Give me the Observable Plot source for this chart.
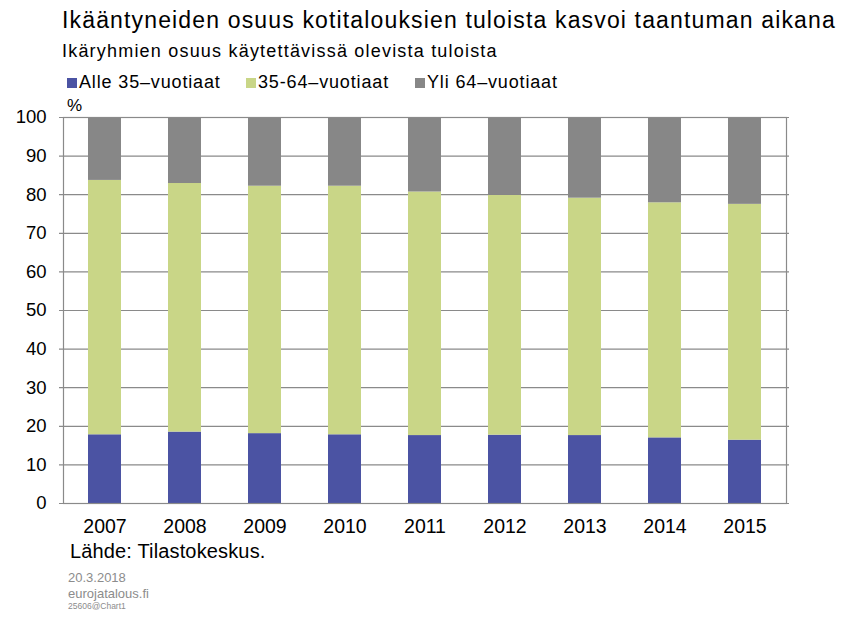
<!DOCTYPE html>
<html><head><meta charset="utf-8">
<script src="https://cdn.jsdelivr.net/npm/d3@7"></script>
<script src="https://cdn.jsdelivr.net/npm/@observablehq/plot@0.6"></script>
<style>
body{margin:0;background:#fff;font-family:"Liberation Sans",Arial,sans-serif;}
#wrap{position:relative;width:845px;height:617px;overflow:hidden;}
.t{position:absolute;white-space:nowrap;color:#000;}
#chart{position:absolute;left:0;top:95px;}
.sq{position:absolute;width:10px;height:10px;}
</style></head>
<body><div id="wrap">
<div class="t" style="left:62px;top:6.5px;font-size:23px;letter-spacing:1.15px;">Ikääntyneiden osuus kotitalouksien tuloista kasvoi taantuman aikana</div>
<div class="t" style="left:62px;top:41px;font-size:18px;letter-spacing:1.2px;">Ikäryhmien osuus käytettävissä olevista tuloista</div>
<div id="legend"></div>
<div class="t" style="left:67px;top:96px;font-size:17px;">%</div>
<div id="chart"></div>
<div class="t" style="left:70px;top:539.5px;font-size:20px;letter-spacing:0.15px;">Lähde: Tilastokeskus.</div>
<div class="t" style="left:68px;top:570px;font-size:13px;color:#8c8c8c;">20.3.2018</div>
<div class="t" style="left:68px;top:586px;font-size:13px;color:#8c8c8c;">eurojatalous.fi</div>
<div class="t" style="left:68px;top:600.5px;font-size:8.5px;color:#8c8c8c;">25606@Chart1</div>
</div>
<script>
const years = ["2007","2008","2009","2010","2011","2012","2013","2014","2015"];
const seriesNames = ["Alle 35–vuotiaat","35-64–vuotiaat","Yli 64–vuotiaat"];
const seriesColors = ["#4b53a3","#c9d687","#878787"];
const under35 = [17.8,18.5,18.1,17.8,17.6,17.7,17.6,17.0,16.4];
const cumTo64 = [83.7,82.9,82.2,82.2,80.7,79.8,79.1,77.9,77.5];
const yTicks = [0,10,20,30,40,50,60,70,80,90,100];

const data = [];
years.forEach((y,i)=>{
  data.push({year:y, series:seriesNames[0], value:under35[i]});
  data.push({year:y, series:seriesNames[1], value:cumTo64[i]-under35[i]});
  data.push({year:y, series:seriesNames[2], value:100-cumTo64[i]});
});

const legendX = [67, 246, 415];
const leg = document.getElementById("legend");
leg.innerHTML = seriesNames.map((s,i)=>
  `<div class="sq" style="left:${legendX[i]}px;top:78px;background:${seriesColors[i]}"></div>` +
  `<div class="t" style="left:${legendX[i]+12}px;top:72.4px;font-size:18px;letter-spacing:0.85px;">${s}</div>`).join("");

const chart = Plot.plot({
  width: 845, height: 450,
  marginTop: 22, marginBottom: 42, marginLeft: 63, marginRight: 59,
  style: {fontFamily: "Liberation Sans, Arial, sans-serif", fontSize: "18px", color:"#000"},
  x: {domain: years, paddingInner: 0.59, paddingOuter: 0.295, label: null},
  y: {domain: [0,100], label: null},
  color: {domain: seriesNames, range: seriesColors},
  marks: [
    Plot.ruleY(yTicks, {stroke:"#8a8a8a", strokeWidth:1.2, insetLeft:-4, insetRight:-3}),
    Plot.barY(data, {x:"year", y:"value", fill:"series", z:"series", order: seriesNames}),
    Plot.frame({stroke:"#8a8a8a", strokeWidth:1.2}),
    Plot.axisY({ticks: yTicks, tickSize: 0, tickPadding: 17, fontSize: 18.5}),
    Plot.axisX({tickSize: 0, tickPadding: 16, fontSize: 19.5})
  ]
});
document.getElementById("chart").appendChild(chart);
</script>
</body></html>
